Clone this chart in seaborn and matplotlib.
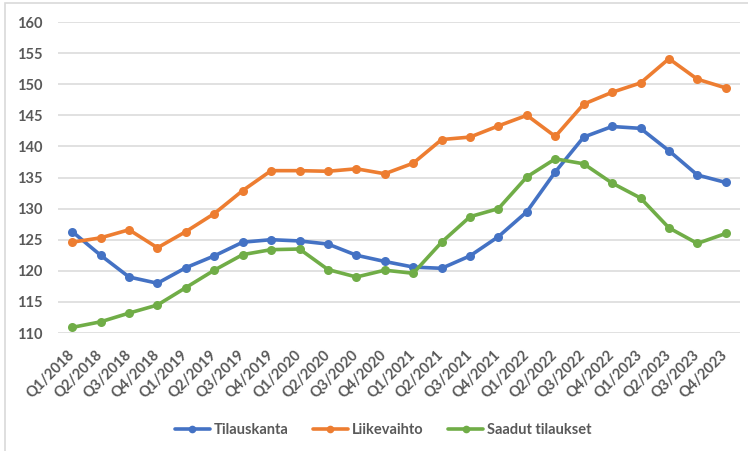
import numpy as np
import pandas as pd
import matplotlib
matplotlib.use("Agg")
import matplotlib.pyplot as plt
from matplotlib.patches import Rectangle
from matplotlib.lines import Line2D
import seaborn as sns

# quarterly index values
quarters = [f"Q{q}/{y}" for y in range(2018, 2024) for q in range(1, 5)]
tilauskanta = [126.3, 122.5, 119.0, 118.0, 120.5, 122.4, 124.6, 125.0, 124.8, 124.3, 122.5, 121.5,
               120.6, 120.4, 122.4, 125.5, 129.5, 135.9, 141.5, 143.2, 142.9, 139.3, 135.4, 134.2]
liikevaihto = [124.6, 125.3, 126.6, 123.7, 126.3, 129.2, 132.9, 136.1, 136.1, 136.0, 136.4, 135.6,
               137.3, 141.1, 141.5, 143.3, 145.0, 141.6, 146.8, 148.7, 150.2, 154.1, 150.8, 149.4]
saadut = [110.9, 111.8, 113.2, 114.5, 117.3, 120.1, 122.6, 123.4, 123.5, 120.2, 119.0, 120.1,
          119.6, 124.6, 128.7, 130.0, 135.1, 138.0, 137.2, 134.1, 131.7, 126.9, 124.4, 126.0]
series_names = ["Tilauskanta", "Liikevaihto", "Saadut tilaukset"]
colors = ["#4472C4", "#ED7D31", "#70AD47"]

df = pd.DataFrame({
    "pos": np.tile(np.arange(len(quarters)), 3),
    "value": tilauskanta + liikevaihto + saadut,
    "series": np.repeat(series_names, len(quarters)),
})

sns.set_style("white")
plt.rcParams['font.family'] = ['Lato', 'DejaVu Sans']
text_col = "#595959"

fig = plt.figure(figsize=(7.48, 4.51), dpi=100)
ax = fig.add_axes([58 / 748, 1 - 333 / 451, 682 / 748, 311 / 451])

sns.lineplot(data=df, x="pos", y="value", hue="series", palette=colors,
             marker="o", markersize=6.5, markeredgewidth=0, linewidth=2.6,
             sort=False, legend=False, ax=ax)

ax.set_xlim(-0.5, len(quarters) - 0.5)
ax.set_ylim(110, 160)
ax.set_yticks(np.arange(110, 161, 5))
ax.set_xticks(np.arange(len(quarters)))
ax.set_xticklabels(quarters)
ax.set_xlabel("")
ax.set_ylabel("")
ax.yaxis.grid(True, color="#D9D9D9", linewidth=1.1)
ax.set_axisbelow(True)
for s in ax.spines.values():
    s.set_visible(False)

ax.tick_params(axis="y", length=0, pad=11, labelsize=10.5, labelcolor=text_col)
ax.tick_params(axis="x", length=0, pad=14, labelsize=10.5, labelcolor=text_col)
for lab in ax.get_yticklabels():
    lab.set_fontweight("bold")
for lab in ax.get_xticklabels():
    lab.set_fontweight("bold")
    lab.set_rotation(45)
    lab.set_ha("right")
    lab.set_va("center")
    lab.set_rotation_mode("anchor")

handles = [Line2D([0], [0], color=c, lw=2.6, marker="o", markersize=5.5, markeredgewidth=0)
           for c in colors]
leg = fig.legend(handles, series_names, loc="center", bbox_to_anchor=(383 / 748, 1 - 430 / 451),
                 ncol=3, frameon=False, handlelength=2.4, handletextpad=0.25, columnspacing=1.7,
                 prop={"weight": "bold", "size": 10.5})
for t in leg.get_texts():
    t.set_color(text_col)

# light chart border like the spreadsheet frame
fig.patches.append(Rectangle((5 / 748, -0.1), 1.2, 1.1 - 3 / 451, transform=fig.transFigure,
                             fill=False, edgecolor="#D9D9D9", linewidth=1.2))

fig.savefig("out.png", dpi=100)
